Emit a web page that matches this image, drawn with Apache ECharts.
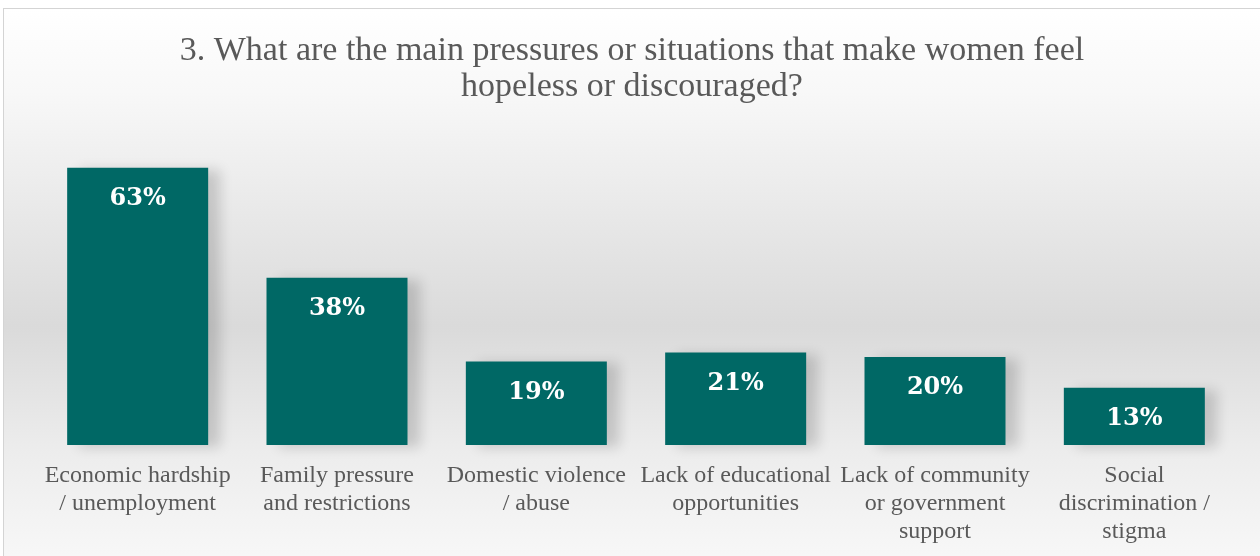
<!DOCTYPE html>
<html>
<head>
<meta charset="utf-8">
<script src="https://cdn.jsdelivr.net/npm/echarts@6/dist/echarts.min.js"></script>
<style>
    html, body { margin: 0; padding: 0; background: #ffffff; }
    #frame {
        position: absolute; left: 3px; top: 8px;
        width: 1256px; height: 547px;
        border-top: 1px solid #d4d4d4; border-left: 1px solid #d4d4d4;
    }
    #chart { width: 1256px; height: 547px; }
</style>
</head>
<body>
<div id="frame"><div id="chart"></div></div>
<script>
// 数据
var titleText = '3. What are the main pressures or situations that make women feel\nhopeless or discouraged?';
var categories = [
    'Economic hardship\n/ unemployment',
    'Family pressure\nand restrictions',
    'Domestic violence\n/ abuse',
    'Lack of educational\nopportunities',
    'Lack of community\nor government\nsupport',
    'Social\ndiscrimination /\nstigma'
];
var percentValues = [63, 38, 19, 21, 20, 13];

var chart = echarts.init(document.getElementById('chart'));

var option = {
    backgroundColor: new echarts.graphic.LinearGradient(0, 0, 0, 1, [
        { offset: 0, color: '#ffffff' },
        { offset: 0.15, color: '#f8f8f8' },
        { offset: 0.58, color: '#dadada' },
        { offset: 0.8, color: '#ececec' },
        { offset: 1, color: '#f7f7f7' }
    ]),
    title: {
        text: titleText,
        left: 'center',
        top: 19,
        textStyle: {
            color: '#595959',
            fontFamily: 'Liberation Serif',
            fontWeight: 'normal',
            fontSize: 34,
            lineHeight: 36
        }
    },
    grid: {
        left: 34,
        right: 26,
        top: 128,
        bottom: 111
    },
    xAxis: {
        type: 'category',
        data: categories,
        axisLine: { show: false },
        axisTick: { show: false },
        axisLabel: {
            interval: 0,
            margin: 17,
            color: '#595959',
            fontFamily: 'Liberation Serif',
            fontSize: 24,
            lineHeight: 28
        }
    },
    yAxis: {
        type: 'value',
        min: 0,
        max: 70,
        show: false
    },
    series: [{
        type: 'bar',
        data: percentValues,
        barWidth: 141,
        itemStyle: {
            color: '#006865',
            shadowColor: 'rgba(0, 0, 0, 0.16)',
            shadowBlur: 12,
            shadowOffsetX: 12,
            shadowOffsetY: 2
        },
        label: {
            show: true,
            position: 'insideTop',
            distance: 19,
            formatter: '{c}%',
            color: '#ffffff',
            fontFamily: 'DejaVu Serif',
            fontWeight: 'bold',
            fontSize: 24
        }
    }],
    animation: false
};

chart.setOption(option);
</script>
</body>
</html>
